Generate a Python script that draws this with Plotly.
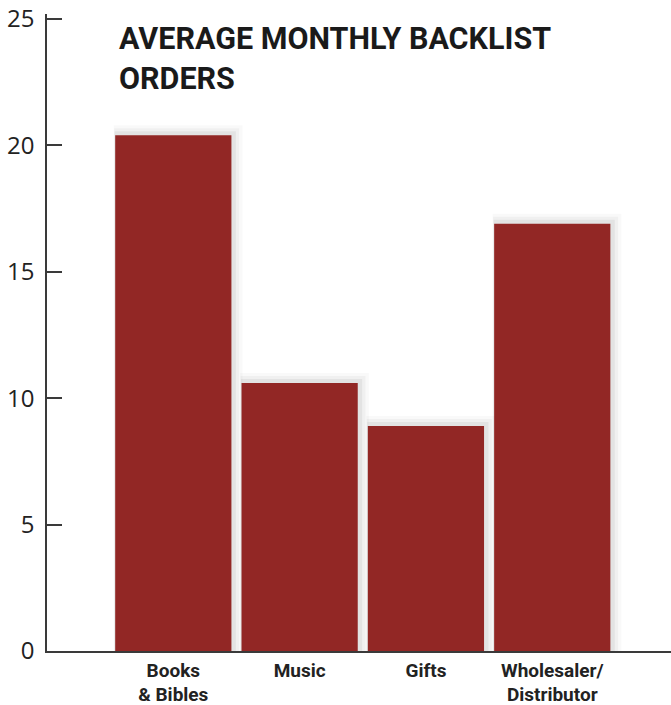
import plotly.graph_objects as go

categories = ["Books & Bibles", "Music", "Gifts", "Wholesaler/Distributor"]
tick_labels = ["Books<br>& Bibles", "Music", "Gifts", "Wholesaler/<br>Distributor"]
orders = [20.4, 10.6, 8.9, 16.9]
y_ticks = [0, 5, 10, 15, 20, 25]
title_text = "AVERAGE MONTHLY BACKLIST<br>ORDERS"

bar_color = "rgb(146,39,37)"
axis_color = "#3a3a3a"

fig = go.Figure()

# soft drop shadow layers (derived from the data values)
for grow, alpha in [(0.4, 0.025), (0.28, 0.035), (0.16, 0.05)]:
    fig.add_trace(go.Bar(
        x=categories, y=[v + grow for v in orders],
        width=0.92 + grow * 0.25, offset=-0.46 - grow * 0.03,
        marker=dict(color=f"rgba(0,0,0,{alpha})", line=dict(width=0)),
        hoverinfo="skip", showlegend=False,
    ))

fig.add_trace(go.Bar(
    x=categories, y=orders,
    width=0.92, offset=-0.46,
    marker=dict(color=bar_color, line=dict(width=0)),
    showlegend=False,
))

fig.update_layout(
    width=671, height=705,
    margin=dict(l=47, r=0, t=14, b=54),
    paper_bgcolor="white", plot_bgcolor="white",
    barmode="overlay",
    xaxis=dict(
        type="category", automargin=False,
        categoryorder="array", categoryarray=categories,
        tickmode="array", tickvals=categories, ticktext=tick_labels,
        range=[-1.0, 3.94],
        showline=True, linecolor=axis_color, linewidth=1.5,
        ticks="", showgrid=False, zeroline=False,
        ticklabelstandoff=1, ticklabeloverflow="allow",
        tickfont=dict(family="Roboto, sans-serif", size=19, color="#222", weight="bold"),
    ),
    yaxis=dict(
        range=[0, 25.2], automargin=False,
        tickvals=y_ticks,
        showline=True, linecolor=axis_color, linewidth=1.5,
        ticks="inside", ticklen=15, tickwidth=1.5, tickcolor=axis_color,
        showgrid=False, zeroline=False,
        ticklabelstandoff=6, ticklabeloverflow="allow",
        tickfont=dict(family="Open Sans, sans-serif", size=24, color="#222"),
    ),
    annotations=[dict(
        text=f"<b>{title_text}</b>",
        xref="paper", yref="paper", x=0.112, y=0.992,
        xanchor="left", yanchor="top", align="left", showarrow=False,
        font=dict(family="Roboto, sans-serif", size=30.5, color="#1a1a1a"),
    )],
)

# remove the browser's default body margin so the figure fills the window exactly
fig.write_html(
    "out.html",
    config={"displayModeBar": False},
    post_script="document.body.style.margin='0';",
)
